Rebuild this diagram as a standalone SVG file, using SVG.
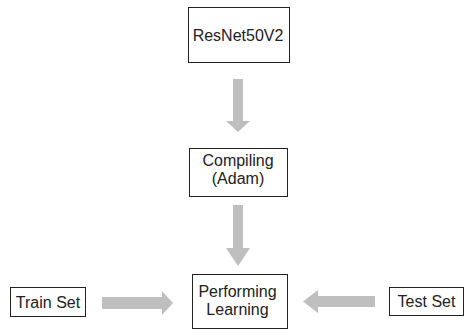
<svg xmlns="http://www.w3.org/2000/svg" width="465" height="329" viewBox="0 0 465 329">
<style>
.box{fill:#fff;stroke:#222;stroke-width:1}
.t{font-family:"Liberation Sans",Arial,sans-serif;font-size:16px;fill:#222;text-anchor:middle}
.arr{fill:#bfbfbf}
</style>
<rect width="465" height="329" fill="#fff"/>
<g id="connectors">
<path class="arr" d="M233,79 H243 V121 H250 L238,132 L226,121 H233 Z"/>
<path class="arr" d="M233,205 H243 V248 H250 L238,266 L226,248 H233 Z"/>
<path class="arr" d="M102,297 H162 V291 L173,303 L162,315 V309 H102 Z"/>
<path class="arr" d="M375,296 H318 V290 L303,301.5 L318,313 V307 H375 Z"/>
</g>
<g id="resnet">
<rect class="box" x="188.5" y="7.5" width="101" height="55"/>
<text class="t" x="238" y="40.5">ResNet50V2</text>
</g>
<g id="compiling">
<rect class="box" x="189.5" y="148.5" width="98" height="48"/>
<text class="t"><tspan x="238" y="166">Compiling</tspan><tspan x="238" y="184">(Adam)</tspan></text>
</g>
<g id="performing">
<rect class="box" x="192.5" y="274.5" width="95" height="54"/>
<text class="t"><tspan x="237.5" y="296.5">Performing</tspan><tspan x="237.5" y="314.5">Learning</tspan></text>
</g>
<g id="train">
<rect class="box" x="10.5" y="287.5" width="75" height="29"/>
<text class="t" x="48" y="307.5">Train Set</text>
</g>
<g id="test">
<rect class="box" x="389.5" y="287.5" width="74" height="28"/>
<text class="t" x="426.5" y="307">Test Set</text>
</g>
</svg>
